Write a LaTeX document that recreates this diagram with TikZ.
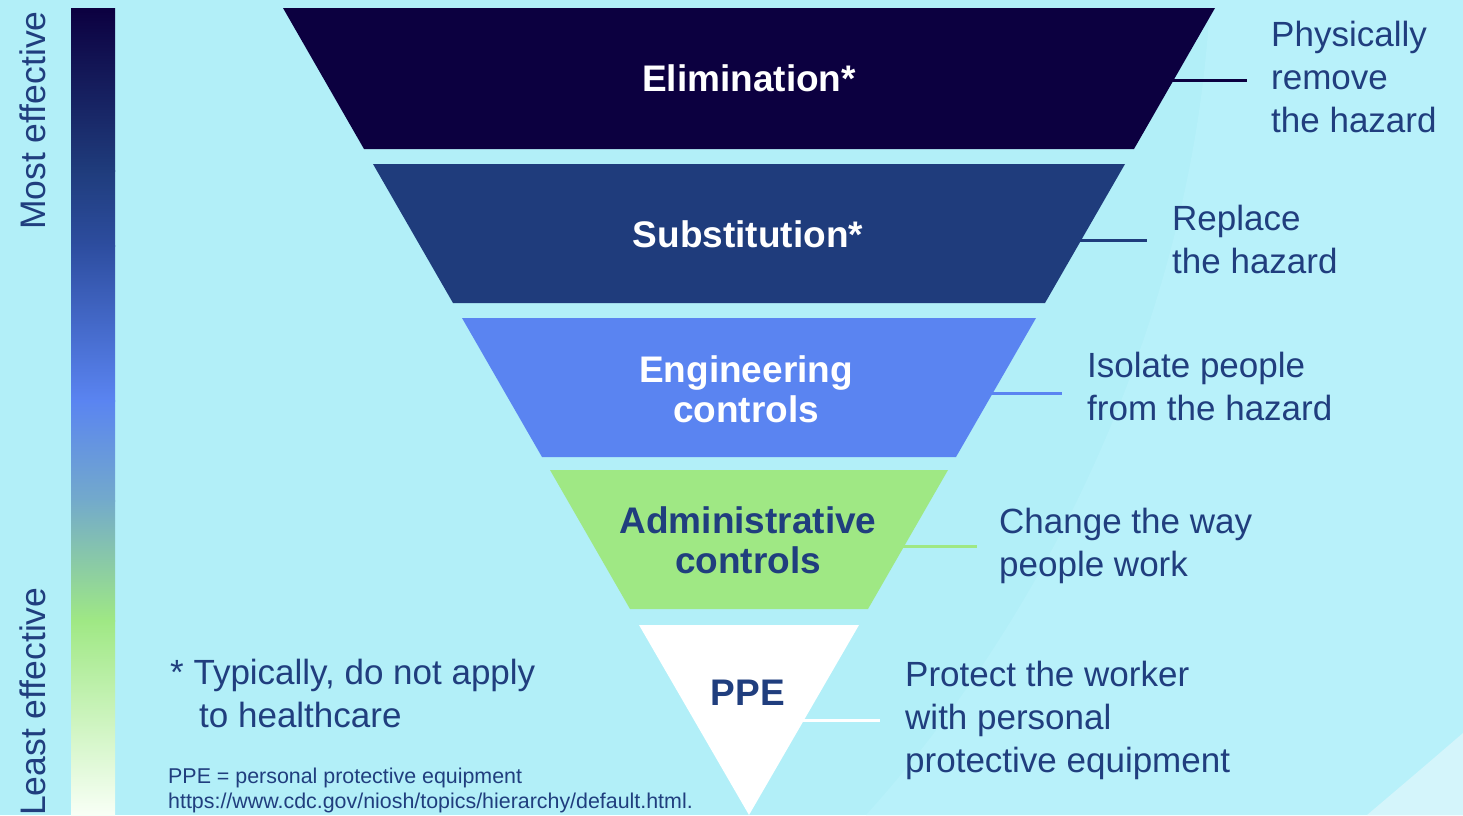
\documentclass[tikz,border=0pt]{standalone}
\usepackage{fontspec}
\setmainfont{Liberation Sans}
\usetikzlibrary{positioning}

\definecolor{bgcyan}{HTML}{B2EFF8}
\definecolor{bglight}{HTML}{B8F1FA}
\definecolor{bgcorner}{HTML}{D4F5FB}
\definecolor{navytext}{HTML}{203E7E}
\definecolor{elimcol}{HTML}{0C0040}
\definecolor{substcol}{HTML}{1F3C7C}
\definecolor{engcol}{HTML}{5A84F1}
\definecolor{admincol}{HTML}{9FE884}
\definecolor{ppecol}{HTML}{FFFFFF}

\tikzset{
  layerlabel/.style={align=center, inner sep=0pt,
    font=\fontsize{37}{40}\selectfont\bfseries},
  sidetext/.style={anchor=base west, align=left, inner sep=0pt, text=navytext,
    font=\fontsize{35}{43}\selectfont},
  tie/.style={line width=3pt},
}

\begin{document}
\begin{tikzpicture}[x=1pt,y=-1pt]
    % Background
    \fill[bgcyan] (0,0) rectangle (1463,815);
    \fill[bglight] (1210,0) .. controls (1195,300) and (1060,600) .. (866,815)
        -- (1463,815) -- (1463,0) -- cycle;
    \fill[bgcorner] (1463,733) .. controls (1420,770) .. (1367,815)
        -- (1463,815) -- cycle;
    \useasboundingbox (0,0) rectangle (1463,815);

    % Effectiveness bar
    \shade[top color=elimcol, bottom color=substcol] (71,8) rectangle (115,171);
    \shade[top color=substcol, bottom color={rgb,255:red,45;green,77;blue,159}] (71,170) rectangle (115,246);
    \shade[top color={rgb,255:red,45;green,77;blue,159}, bottom color=engcol] (71,245) rectangle (115,401);
    \shade[top color=engcol, bottom color={rgb,255:red,115;green,170;blue,203}] (71,400) rectangle (115,501);
    \shade[top color={rgb,255:red,115;green,170;blue,203}, bottom color=admincol] (71,500) rectangle (115,621);
    \shade[top color=admincol, bottom color={rgb,255:red,248;green,255;blue,246}] (71,620) rectangle (115,815);
    \node[sidetext, rotate=90, font=\fontsize{35.5}{40}\selectfont] (most) at (45,230) {Most effective};
    \node[sidetext, rotate=90, font=\fontsize{35.5}{40}\selectfont] (least) at (45,816) {Least effective};

    % Layers
    \fill[elimcol] (283,8) -- (1215,8) -- (1134,149) -- (364,149) -- cycle;
    \fill[substcol] (373,164) -- (1125,164) -- (1045,303) -- (453,303) -- cycle;
    \fill[engcol] (462,318) -- (1036,318) -- (956,457) -- (542,457) -- cycle;
    \fill[admincol] (550,470) -- (948,470) -- (868,609) -- (630,609) -- cycle;
    \fill[ppecol] (639,625) -- (859,625) -- (749,815) -- cycle;

    \node[layerlabel, text=white] (elim) at (749,78) {Elimination*};
    \node[layerlabel, text=white] (subst) at (748,234) {Substitution*};
    \node[layerlabel, text=white] (eng) at (746,389) {Engineering\\controls};
    \node[layerlabel, text=navytext] (admin) at (748,540) {Administrative\\controls};
    \node[layerlabel, text=navytext] (ppe) at (748,693) {PPE};

    % Descriptions (anchored on the last line)
    \node[sidetext] (elimTxt) at (1271,132) {Physically\\remove\\the hazard};
    \node[sidetext] (substTxt) at (1172,273) {Replace\\the hazard};
    \node[sidetext] (engTxt) at (1087,420) {Isolate people\\from the hazard};
    \node[sidetext] (adminTxt) at (999,576) {Change the way\\people work};
    \node[sidetext] (ppeTxt) at (905,772) {Protect the worker\\with personal\\protective equipment};

    % Ties
    \coordinate (elimEdge) at (1172,80);   \coordinate (elimEnd) at (1247,80);
    \coordinate (substEdge) at (1080,240); \coordinate (substEnd) at (1147,240);
    \coordinate (engEdge) at (992,393);    \coordinate (engEnd) at (1062,393);
    \coordinate (adminEdge) at (903,546);  \coordinate (adminEnd) at (977,546);
    \coordinate (ppeEdge) at (803,720);    \coordinate (ppeEnd) at (880,720);
    \draw[tie, elimcol] (elimEdge) -- (elimEnd);
    \draw[tie, substcol] (substEdge) -- (substEnd);
    \draw[tie, engcol] (engEdge) -- (engEnd);
    \draw[tie, admincol] (adminEdge) -- (adminEnd);
    \draw[tie, ppecol] (ppeEdge) -- (ppeEnd);

    % Notes
    \node[sidetext] (note) at (170,727) {* Typically, do not apply\\\hspace*{29pt}to healthcare};
    \node[sidetext, font=\fontsize{21.4}{25}\selectfont] (source) at (168,808)
        {PPE = personal protective equipment\\https://www.cdc.gov/niosh/topics/hierarchy/default.html.};
\end{tikzpicture}
\end{document}
